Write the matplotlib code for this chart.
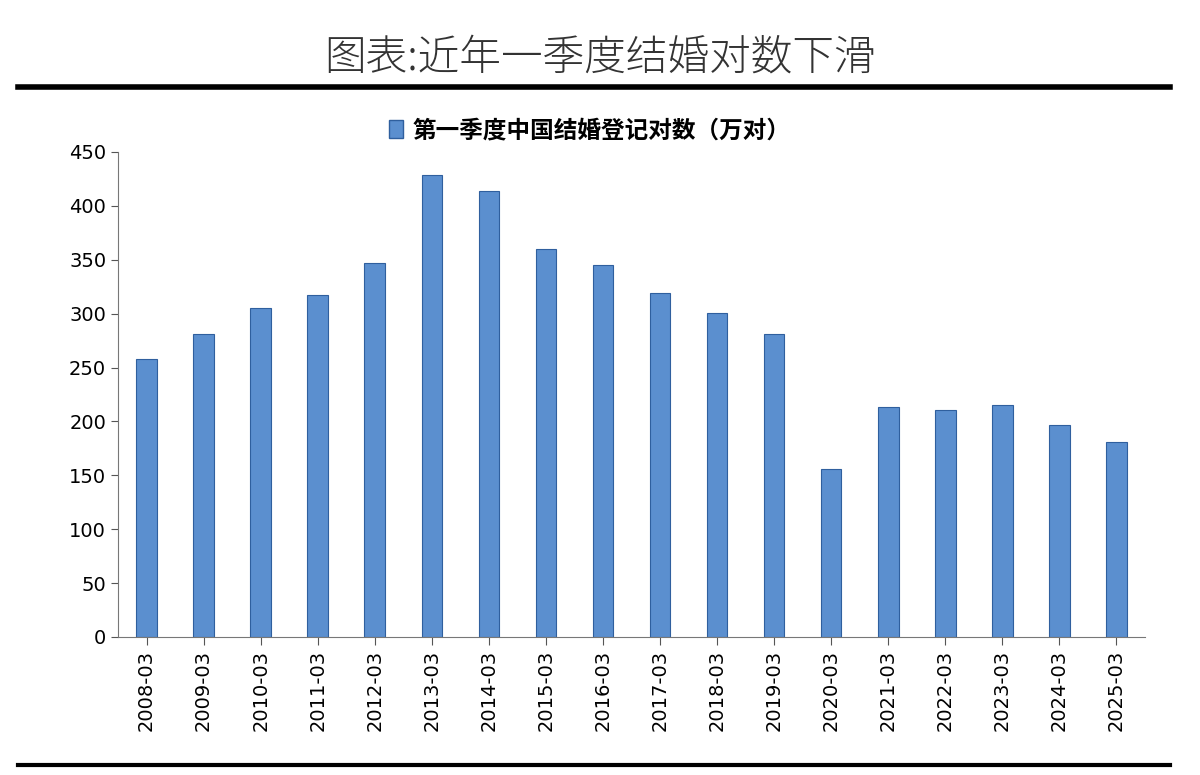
import matplotlib
matplotlib.use("Agg")
import matplotlib.pyplot as plt
from matplotlib import font_manager as fm
from matplotlib.lines import Line2D
from matplotlib.patches import Patch

cjk = None
for f in fm.findSystemFonts():
    if "NotoSansCJK" in f.replace(" ", "") or "NotoSansSC" in f:
        try:
            fm.fontManager.addfont(f)
        except Exception:
            pass
names = {f.name for f in fm.fontManager.ttflist}
for n in ["Noto Sans CJK SC", "Noto Sans CJK JP", "Noto Sans CJK TC", "Noto Sans CJK KR", "Noto Sans SC"]:
    if n in names:
        cjk = n
        break
plt.rcParams["font.family"] = "sans-serif"
plt.rcParams["font.sans-serif"] = ([cjk] if cjk else []) + ["DejaVu Sans"]

categories = ["2008-03","2009-03","2010-03","2011-03","2012-03","2013-03","2014-03","2015-03","2016-03",
              "2017-03","2018-03","2019-03","2020-03","2021-03","2022-03","2023-03","2024-03","2025-03"]
values = [258, 281, 305, 317, 347, 429, 414, 360, 345, 319, 301, 281, 156, 213, 211, 215, 197, 181]
yticks = [0, 50, 100, 150, 200, 250, 300, 350, 400, 450]

fig = plt.figure(figsize=(12, 7.75), dpi=100)
ax = fig.add_axes([118/1200, 1-637/775, (1145-118)/1200, (637-152)/775])
x = range(len(categories))
ax.bar(x, values, width=0.36, color="#5b8fcf", edgecolor="#2f5f9e", linewidth=0.8)
ax.set_xlim(-0.5, len(categories)-0.5)
ax.set_ylim(0, 450)
ax.set_yticks(yticks)
ax.set_xticks(list(x))
ax.set_xticklabels(categories, rotation=90, fontsize=14, fontfamily="DejaVu Sans")
ax.set_yticklabels([str(v) for v in yticks], fontsize=14, fontfamily="DejaVu Sans")
ax.tick_params(axis="y", length=5, color="#555555")
ax.tick_params(axis="x", length=6, color="#555555")
for s in ["top", "right"]:
    ax.spines[s].set_visible(False)
ax.spines["left"].set_color("#777777")
ax.spines["bottom"].set_color("#777777")

fig.text(0.5, 1-58/775, "图表:近年一季度结婚对数下滑", ha="center", va="center", fontsize=30,
         color="#333333", fontweight="light")
fig.add_artist(Line2D([18/1200, 1170/1200], [1-87/775]*2, color="black", lw=4))
fig.add_artist(Line2D([18/1200, 1170/1200], [1-765/775]*2, color="black", lw=3))
fig.legend(handles=[Patch(facecolor="#5b8fcf", edgecolor="#2f5f9e")],
           labels=["第一季度中国结婚登记对数（万对）"], loc="center",
           bbox_to_anchor=(590/1200, 1-130/775), frameon=False,
           prop={"size": 17, "weight": "bold", "family": cjk or "DejaVu Sans"},
           handlelength=0.6, handleheight=0.8, handletextpad=0.4)
fig.savefig("out.png", dpi=100)
